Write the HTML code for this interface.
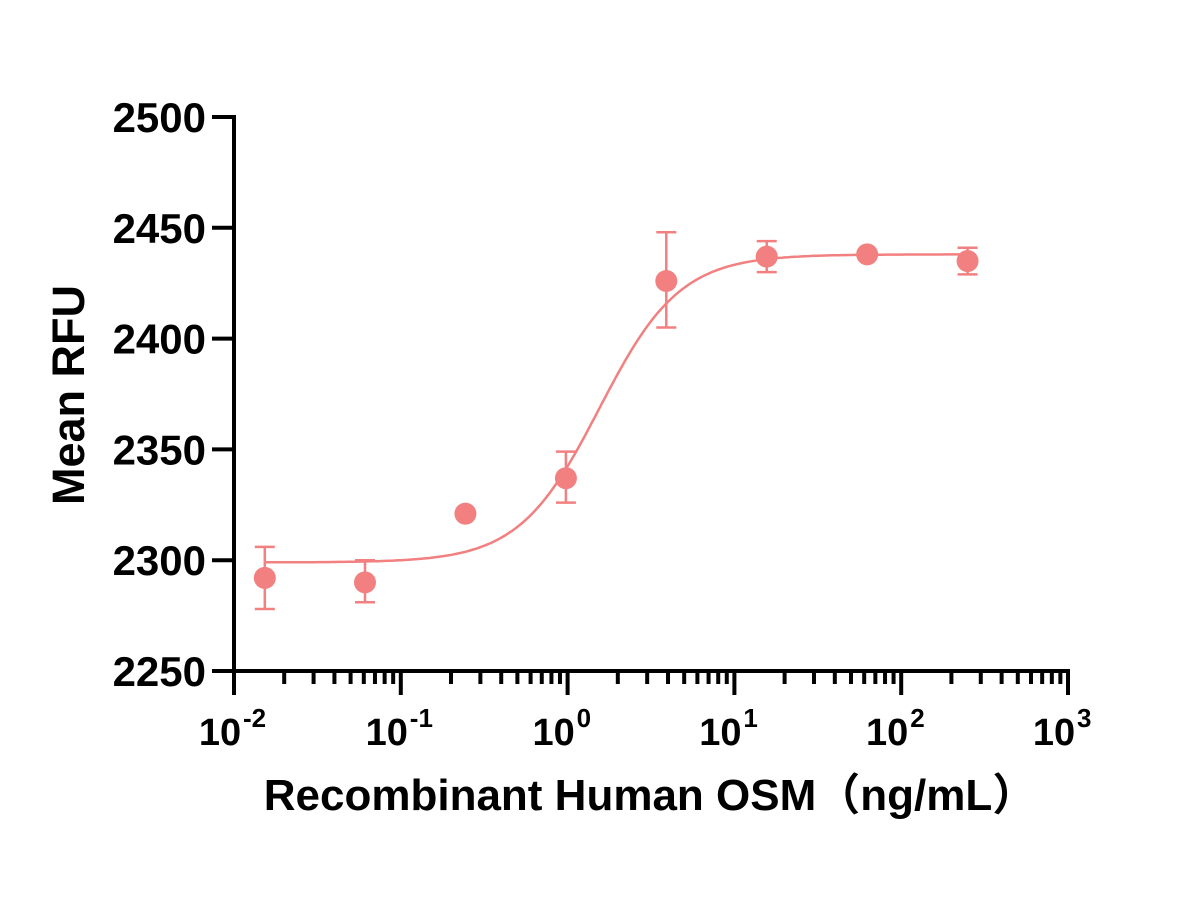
<!DOCTYPE html>
<html><head><meta charset="utf-8"><style>
html,body{margin:0;padding:0;background:#fff;}
svg text{font-family:"Liberation Sans","Noto Sans CJK SC",sans-serif;font-weight:bold;fill:#000;}
</style></head><body>
<svg id="chart" width="1200" height="900" xmlns="http://www.w3.org/2000/svg">
<g id="axes"></g>
<g id="marks"></g>
<text x="650" y="810" font-size="44" text-anchor="middle">Recombinant Human OSM（ng/mL）</text>
<text transform="translate(84,395) rotate(-90)" font-size="45" text-anchor="middle">Mean RFU</text>
</svg>
<script>
const concentrations=[0.0153,0.061,0.244,0.977,3.906,15.625,62.5,250];
const meanValues=[2292,2290,2321,2337,2426,2437,2438,2435];
const errHigh=[2306,2300,2321,2349,2448,2444,2438,2441];
const errLow=[2278,2281,2321,2326,2405,2430,2438,2429];
const fitBottom=2299, fitTop=2438, fitEC50=1.55, fitHill=1.8;
const yTicks=[2250,2300,2350,2400,2450,2500];
const xDecades=[-2,-1,0,1,2,3];
const NS="http://www.w3.org/2000/svg";
const X0=234,DEC=166.8,Y0=671,YPX=110.8/50;
function xs(v){return X0+(Math.log10(v)+2)*DEC;}
function ys(v){return Y0-(v-2250)*YPX;}
function mk(p,tag,a){const e=document.createElementNS(NS,tag);for(const k in a)e.setAttribute(k,a[k]);p.appendChild(e);return e;}
const ax=document.getElementById('axes'),mg=document.getElementById('marks');
let e=mk(ax,'line',{x1:X0,y1:ys(2500)-2,x2:X0,y2:Y0+2,stroke:'#000','stroke-width':4});


e=mk(ax,'line',{x1:X0-2,y1:Y0,x2:xs(1000)+2,y2:Y0,stroke:'#000','stroke-width':4});


yTicks.forEach(t=>{
 let l=mk(ax,'line',{x1:X0-22,y1:ys(t),x2:X0,y2:ys(t),stroke:'#000','stroke-width':4});
 
 
 let tx=mk(ax,'text',{x:X0-28,y:ys(t)+15,'font-size':42,'text-anchor':'end'});
 tx.textContent=t;
 
 
});
xDecades.forEach((d,i)=>{
 const x=X0+(d+2)*DEC;
 let l=mk(ax,'line',{x1:x,y1:Y0,x2:x,y2:Y0+24,stroke:'#000','stroke-width':4});
 
 
 let tx=mk(ax,'text',{x:x-14,y:745,'font-size':38,'text-anchor':'middle'});
 tx.textContent='10';
 
 
 let sp=mk(ax,'text',{x:x+9,y:727,'font-size':26,'text-anchor':'start'});
 sp.textContent=String(d);
 
 
 if(i<xDecades.length-1){for(let m=2;m<=9;m++){const mx=x+Math.log10(m)*DEC;
  let ml=mk(ax,'line',{x1:mx,y1:Y0,x2:mx,y2:Y0+13,stroke:'#000','stroke-width':4});
  
  }}
});
const col='#f28080';
let pts=[];
for(let lx=Math.log10(concentrations[0]);lx<=Math.log10(concentrations[7])+0.001;lx+=0.02){
 const c=Math.pow(10,lx);
 const v=fitBottom+(fitTop-fitBottom)/(1+Math.pow(fitEC50/c,fitHill));
 pts.push(xs(c).toFixed(1)+','+ys(v).toFixed(1));
}
e=mk(mg,'polyline',{points:pts.join(' '),fill:'none',stroke:col,'stroke-width':2.5});


concentrations.forEach((c,i)=>{
 const x=xs(c);
 if(errHigh[i]-errLow[i]>1){
  const g=mk(mg,'g',{stroke:col,'stroke-width':2.5});
  
  
  mk(g,'line',{x1:x,y1:ys(errHigh[i]),x2:x,y2:ys(errLow[i])});
  mk(g,'line',{x1:x-10,y1:ys(errHigh[i]),x2:x+10,y2:ys(errHigh[i])});
  mk(g,'line',{x1:x-10,y1:ys(errLow[i]),x2:x+10,y2:ys(errLow[i])});
 }
 const p=mk(mg,'circle',{cx:x,cy:ys(meanValues[i]),r:11,fill:col});
 
 
});
</script>
</body></html>
